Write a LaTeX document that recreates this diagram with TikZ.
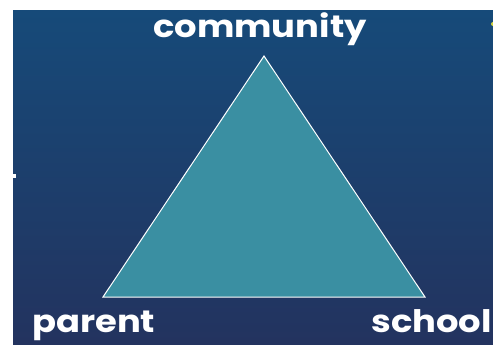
\documentclass[tikz,border=0pt]{standalone}
\usepackage{fontspec}
\setmainfont{Poppins}
\definecolor{bgtop}{HTML}{164A79}
\definecolor{bgbot}{HTML}{23335F}
\definecolor{tri}{HTML}{3A8FA2}
\newcommand{\widetext}[1]{\scalebox{1.14}[1]{#1}}
\begin{document}
\begin{tikzpicture}[x=1pt,y=-1pt,
  lbl/.style={text=white,font=\fontsize{31}{32}\selectfont\bfseries,inner sep=0pt,anchor=base}]
\useasboundingbox (0,0) rectangle (493,354);
\fill[white] (0,0) rectangle (493,354);
\shade[top color=bgtop,bottom color=bgbot] (13,10) rectangle (493,344);
\fill[white] (13,174) rectangle (16,178);
\fill[yellow!80!white,opacity=0.8] (493,24) circle (2);
\coordinate (apex) at (264,56);
\coordinate (left) at (103,297);
\coordinate (right) at (425,297);
\filldraw[fill=tri,draw=white,line width=1pt,line join=miter] (apex) -- (left) -- (right) -- cycle;
\node[lbl] (community) at (260,37) {\widetext{community}};
\node[lbl,anchor=base west] (parent) at (32,332) {\widetext{parent}};
\node[lbl,anchor=base east] (school) at (492,332) {\widetext{school}};
\end{tikzpicture}
\end{document}
